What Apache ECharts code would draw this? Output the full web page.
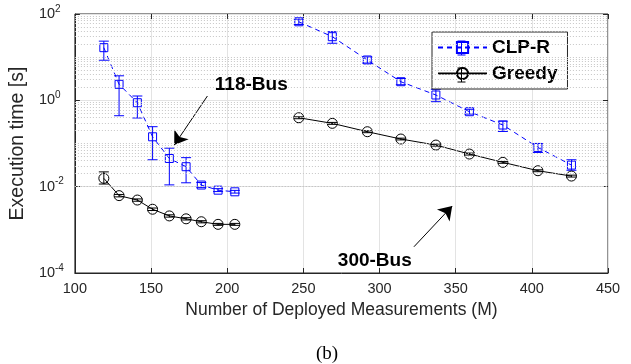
<!DOCTYPE html>
<html><head><meta charset="utf-8">
<script src="https://cdn.jsdelivr.net/npm/echarts@6/dist/echarts.min.js"></script>
<style>html,body{margin:0;padding:0;background:#fff}#c{width:631px;height:364px}</style>
</head><body><div id="c"></div>
<script>
// ---- data ----
const mLeft  = [119, 129, 141, 151, 162, 173, 183, 194, 205];
const mRight = [247, 269, 292, 314, 337, 359, 381, 404, 426];

const clpLeft     = [16.6, 2.35, 0.88, 0.143, 0.045, 0.029, 0.0109, 0.0083, 0.0076];
const clpLeftLow  = [8.5, 0.44, 0.39, 0.042, 0.011, 0.0123, 0.0095, 0.0077, 0.0071];
const clpLeftHigh = [23.5, 3.7, 1.26, 0.245, 0.078, 0.047, 0.0125, 0.009, 0.0082];

const clpRight     = [66, 29.8, 8.6, 2.7, 1.33, 0.545, 0.268, 0.081, 0.0316];
const clpRightLow  = [57, 21, 7.3, 2.3, 0.93, 0.48, 0.19, 0.062, 0.024];
const clpRightHigh = [76, 39, 10.1, 3.2, 1.8, 0.62, 0.33, 0.1, 0.042];

const grLeft     = [0.0156, 0.0062, 0.0049, 0.0030, 0.0021, 0.0018, 0.00154, 0.00134, 0.00134];
const grLeftLow  = [0.0115, 0.0058, 0.0046, 0.0028, 0.00197, 0.00169, 0.00145, 0.00127, 0.00127];
const grLeftHigh = [0.0220, 0.0066, 0.0052, 0.0032, 0.00223, 0.00191, 0.00163, 0.00141, 0.00141];

const grRight     = [0.395, 0.293, 0.1875, 0.127, 0.092, 0.057, 0.0366, 0.0234, 0.0176];
const grRightLow  = [0.375, 0.278, 0.178, 0.121, 0.087, 0.054, 0.0348, 0.0222, 0.0167];
const grRightHigh = [0.415, 0.308, 0.197, 0.133, 0.097, 0.060, 0.0384, 0.0246, 0.0185];

const seriesNames = ['CLP-R', 'Greedy'];
const xTickMin = 100, xTickMax = 450, xTickStep = 50;
const yMin = 1e-4, yMax = 100;

// ---- helpers ----
const pairs = (xs, ys) => xs.map((x, i) => [x, ys[i]]);
const triples = (xs, lo, hi) => xs.map((x, i) => [x, lo[i], hi[i]]);

function errRender(color) {
  return function (params, api) {
    const x = api.value(0), lo = api.value(1), hi = api.value(2);
    const p1 = api.coord([x, lo]), p2 = api.coord([x, hi]);
    const w = 5;
    const style = { stroke: color, lineWidth: 1, fill: null };
    return { type: 'group', children: [
      { type: 'line', shape: { x1: p1[0], y1: p1[1], x2: p2[0], y2: p2[1] }, style },
      { type: 'line', shape: { x1: p1[0] - w, y1: p1[1], x2: p1[0] + w, y2: p1[1] }, style },
      { type: 'line', shape: { x1: p2[0] - w, y1: p2[1], x2: p2[0] + w, y2: p2[1] }, style }
    ]};
  };
}

// minor log grid positions
const minorGrid = [];
for (let k = -4; k <= 1; k++) {
  for (let m = 1; m <= 9; m++) {
    if (m === 1 && k % 2 === 0) continue;
    minorGrid.push({ yAxis: m * Math.pow(10, k) });
  }
}

const BLUE = '#0000ff', BLACK = '#000000';
const FONT = 'Liberation Sans, Arial, Helvetica, sans-serif';
const AX = '#262626';

function errSeries(name, color, data) {
  return { name, type: 'custom', renderItem: errRender(color), data,
           encode: { x: 0, y: [1, 2] }, z: 3, silent: true };
}
function lineSeries(name, color, data, symbol, size, dashed) {
  return { name, type: 'line', data, symbol, symbolSize: size, showSymbol: true,
           itemStyle: { color: 'rgba(255,255,255,0)', borderColor: color, borderWidth: 1 },
           lineStyle: { color, width: 1, type: dashed ? [5, 4] : 'solid' },
           emphasis: { disabled: true },
           z: 4, silent: true, animation: false };
}

// legend error-bar glyph decorations
function legendBar(cx, cy, color) {
  const s = { stroke: color, lineWidth: 1 };
  return [
    { type: 'line', z: 100, silent: true, shape: { x1: cx, y1: cy - 7, x2: cx, y2: cy + 7 }, style: s },
    { type: 'line', z: 100, silent: true, shape: { x1: cx - 4, y1: cy - 7, x2: cx + 4, y2: cy - 7 }, style: s },
    { type: 'line', z: 100, silent: true, shape: { x1: cx - 4, y1: cy + 7, x2: cx + 4, y2: cy + 7 }, style: s }
  ];
}

const chart = echarts.init(document.getElementById('c'), null, { renderer: 'canvas' });
chart.setOption({
  animation: false,
  backgroundColor: '#fff',
  textStyle: { fontFamily: FONT },
  grid: { left: 73, right: 23, top: 14, bottom: 91, show: true, borderColor: AX, borderWidth: 1, backgroundColor: 'transparent' },
  legend: {
    data: seriesNames, orient: 'vertical', left: 432, top: 32,
    padding: [6, 10, 6, 5], itemGap: 7, itemWidth: 49, itemHeight: 14,
    backgroundColor: '#fff', borderColor: AX, borderWidth: 1,
    textStyle: { fontSize: 19, fontWeight: 'bold', color: '#000', fontFamily: FONT }
  },
  xAxis: [{
    type: 'value', min: xTickMin, max: xTickMax, interval: xTickStep,
    name: 'Number of Deployed Measurements (M)', nameLocation: 'middle', nameGap: 26,
    nameTextStyle: { fontSize: 17.5, color: AX },
    axisLine: { lineStyle: { color: AX } },
    axisTick: { inside: true, length: 5, lineStyle: { color: AX } },
    axisLabel: { fontSize: 14.5, color: AX, margin: 8 },
    splitLine: { show: true, lineStyle: { color: '#e3e3e3', width: 1 } }
  }, {
    type: 'value', position: 'top', min: xTickMin, max: xTickMax, interval: xTickStep,
    axisLine: { show: false }, axisLabel: { show: false }, splitLine: { show: false },
    axisTick: { inside: true, length: 5, lineStyle: { color: AX } }
  }],
  yAxis: [{
    type: 'log', logBase: 10, min: yMin, max: yMax, interval: 2,
    name: 'Execution time [s]', nameLocation: 'middle', nameGap: 22,
    nameTextStyle: { fontSize: 19.5, color: AX },
    axisLine: { lineStyle: { color: AX } },
    axisTick: { inside: true, length: 5, lineStyle: { color: AX } },
    axisLabel: {
      align: 'left', margin: 36, color: AX,
      formatter: v => '{b|10}{s|' + Math.round(Math.log10(v)) + '}',
      rich: { b: { fontSize: 14.5, color: AX, lineHeight: 20, fontFamily: FONT },
              s: { fontSize: 10, color: AX, verticalAlign: 'top', fontFamily: FONT } }
    },
    splitLine: { show: true, lineStyle: { color: '#e3e3e3', width: 1 } }
  }, {
    type: 'log', logBase: 10, min: yMin, max: yMax, interval: 2, position: 'right',
    axisLine: { show: false }, axisLabel: { show: false }, splitLine: { show: false },
    axisTick: { inside: true, length: 5, lineStyle: { color: AX } }
  }],
  graphic: [{
    type: 'text', x: 327, y: 354,
    style: { text: '(b)', font: '19px "Liberation Serif", "Times New Roman", serif',
             textAlign: 'center', textVerticalAlign: 'middle', fill: '#000' }
  }].concat(legendBar(461.5, 48, BLUE), legendBar(461.5, 75, BLACK)),
  series: [
    lineSeries('CLP-R', BLUE, pairs(mLeft, clpLeft), 'rect', 8, true),
    lineSeries('CLP-R', BLUE, pairs(mRight, clpRight), 'rect', 8, true),
    lineSeries('Greedy', BLACK, pairs(mLeft, grLeft), 'circle', 10, false),
    Object.assign(lineSeries('Greedy', BLACK, pairs(mRight, grRight), 'circle', 10, false), {
      markLine: { silent: true, symbol: ['none', 'arrow'], symbolSize: 13, label: { show: false },
        lineStyle: { color: '#000', width: 1, type: 'solid' }, animation: false,
        emphasis: { disabled: true },
        data: [
          [{ coord: [187, 1.26] }, { coord: [165.2, 0.092] }],
          [{ coord: [322.6, 0.000405] }, { coord: [347.7, 0.00355] }]
        ] },
      markPoint: { silent: true, symbol: 'rect', symbolSize: 1, itemStyle: { color: 'rgba(0,0,0,0)' },
        label: { show: true, position: 'inside', fontSize: 19, fontWeight: 'bold', color: '#000', fontFamily: FONT,
                 formatter: p => p.name },
        animation: false,
        data: [
          { name: '118-Bus', coord: [215.8, 2.26] },
          { name: '300-Bus', coord: [296.9, 0.000189] }
        ] }
    }),
    errSeries('CLP-R', BLUE, triples(mLeft, clpLeftLow, clpLeftHigh)),
    errSeries('CLP-R', BLUE, triples(mRight, clpRightLow, clpRightHigh)),
    errSeries('Greedy', BLACK, triples(mLeft, grLeftLow, grLeftHigh)),
    errSeries('Greedy', BLACK, triples(mRight, grRightLow, grRightHigh)),
    { name: '__grid', type: 'line', data: [[xTickMin, 1]], symbol: 'none',
      lineStyle: { opacity: 0 }, z: 1, silent: true,
      markLine: { silent: true, symbol: ['none', 'none'], label: { show: false },
        lineStyle: { type: [1, 2], color: '#c6c6c6', width: 1 },
        emphasis: { disabled: true }, data: minorGrid, animation: false } }
  ]
});
</script>
</body></html>
